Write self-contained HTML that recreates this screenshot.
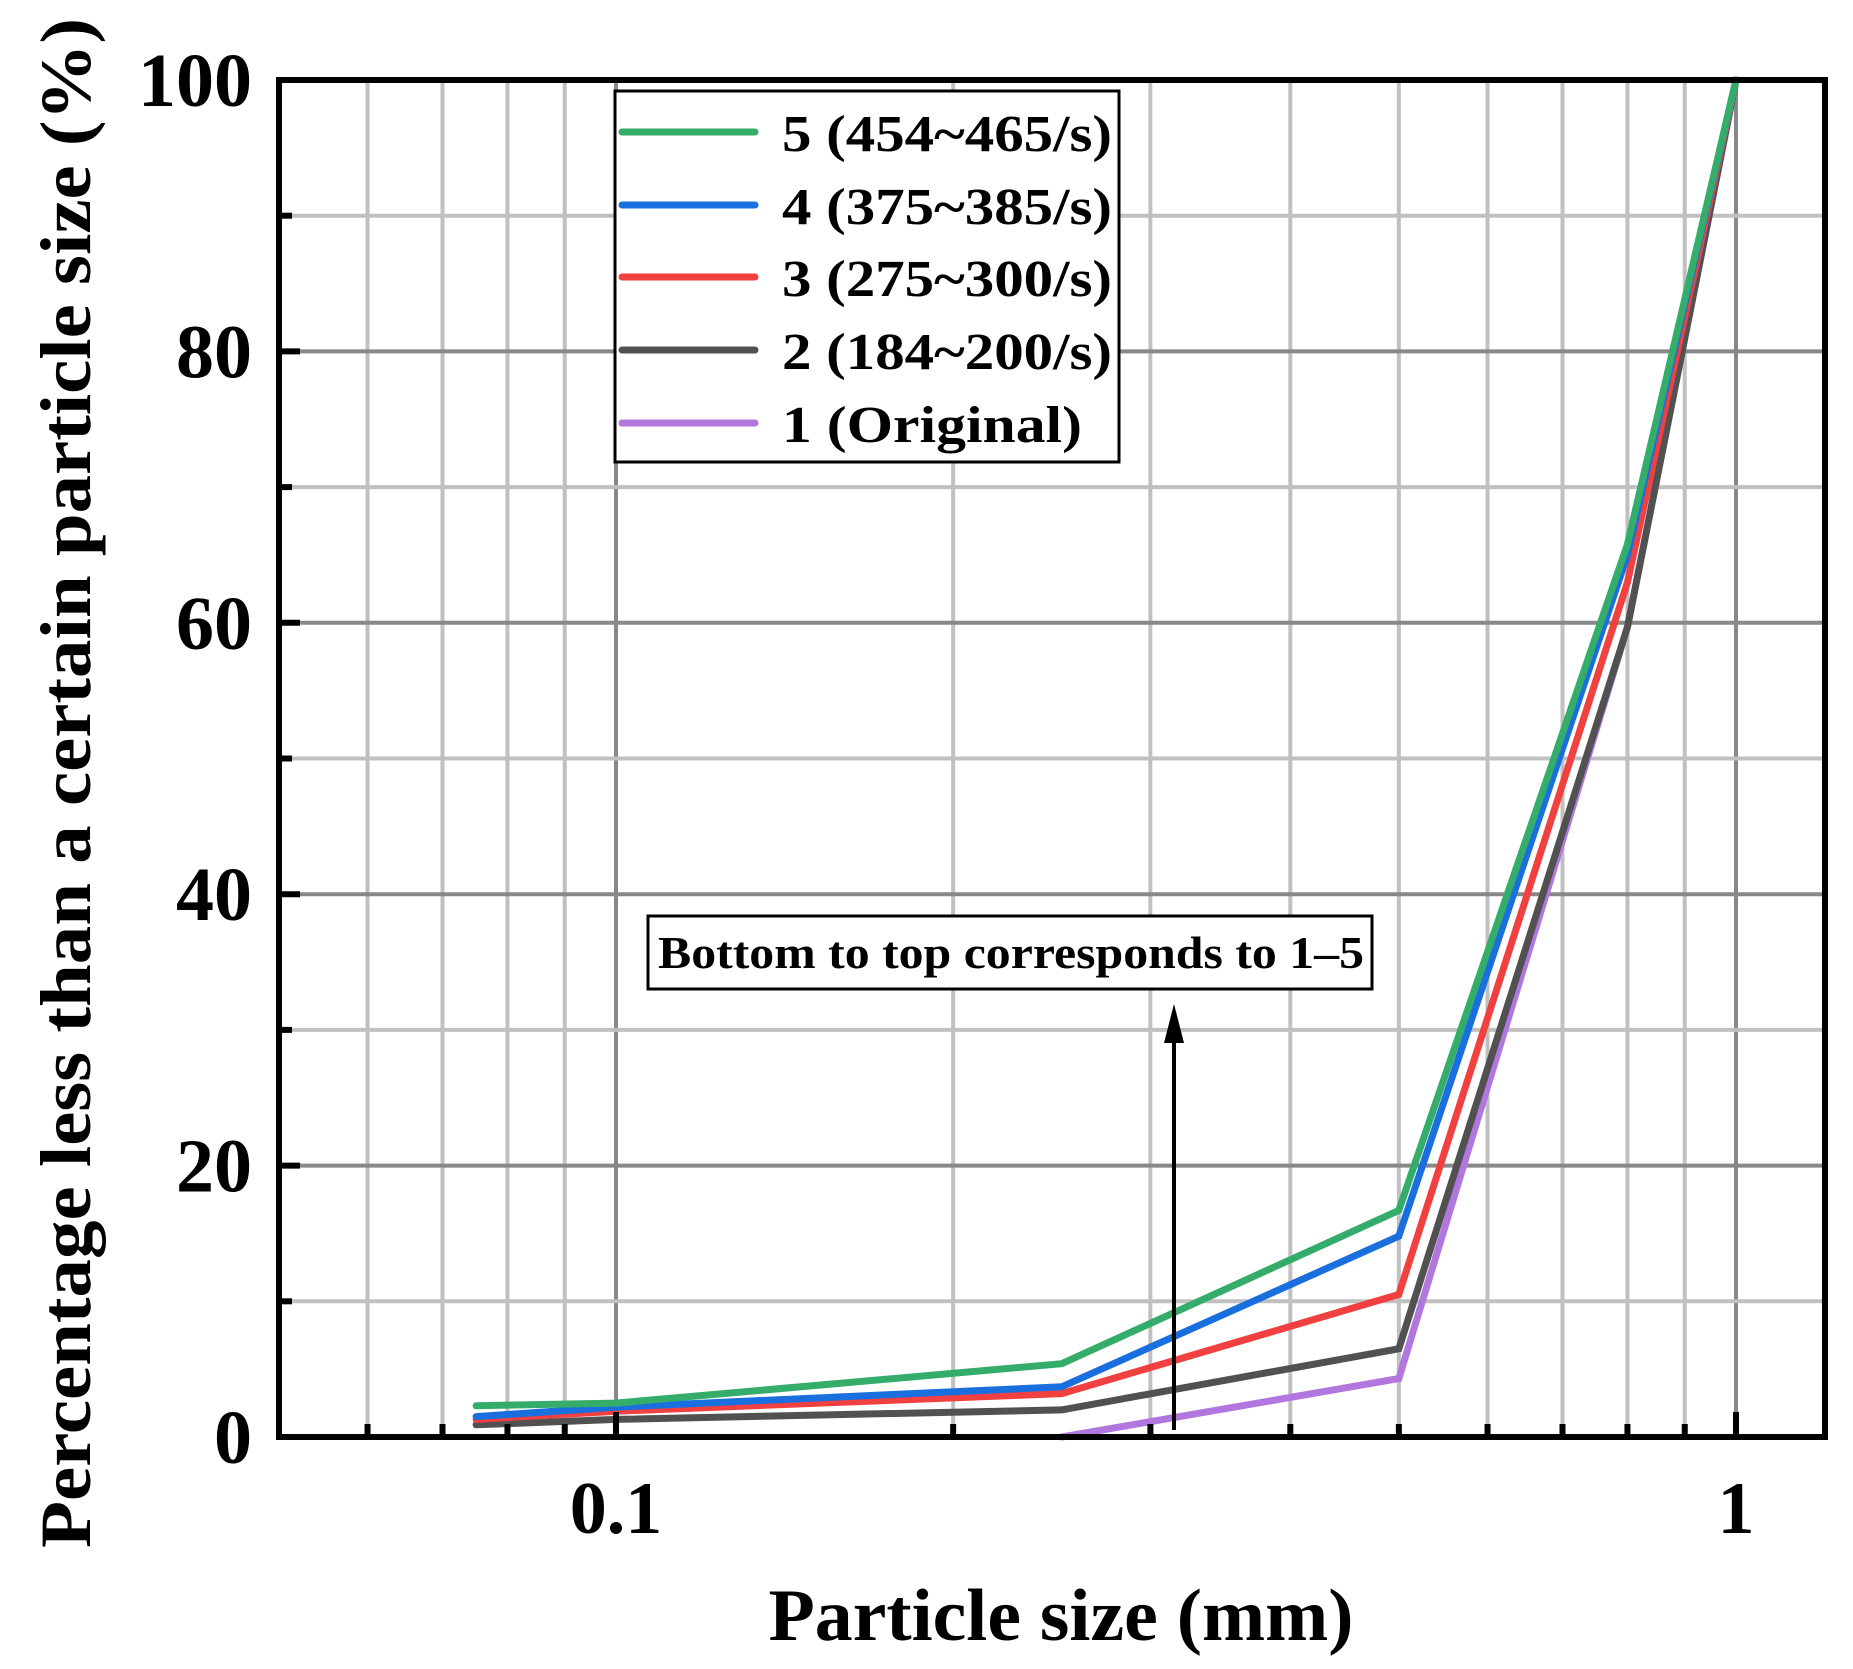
<!DOCTYPE html>
<html><head><meta charset="utf-8"><style>html,body{margin:0;padding:0;background:#fff}svg{display:block}</style></head>
<body>
<svg width="1853" height="1669" viewBox="0 0 1853 1669" xmlns="http://www.w3.org/2000/svg" font-family="Liberation Serif, serif" font-weight="bold">
<rect width="1853" height="1669" fill="#fff"/>
<g id="grid"></g>
<g id="series" fill="none" stroke-width="7" stroke-linejoin="miter"></g>
<!-- legend -->
<rect x="615" y="91" width="504" height="371" fill="#fff" stroke="#000" stroke-width="3"/>
<g stroke-width="7" stroke-linecap="round">
<line x1="622" y1="132" x2="755" y2="132" stroke="#34ad6a"/>
<line x1="622" y1="205" x2="755" y2="205" stroke="#1a6fdf"/>
<line x1="622" y1="277" x2="755" y2="277" stroke="#f14040"/>
<line x1="622" y1="350" x2="755" y2="350" stroke="#515151"/>
<line x1="622" y1="423" x2="755" y2="423" stroke="#b177de"/>
</g>
<g font-size="52" fill="#000">
<text x="782" y="151" textLength="330" lengthAdjust="spacingAndGlyphs">5  (454~465/s)</text>
<text x="782" y="224" textLength="330" lengthAdjust="spacingAndGlyphs">4  (375~385/s)</text>
<text x="782" y="296" textLength="330" lengthAdjust="spacingAndGlyphs">3  (275~300/s)</text>
<text x="782" y="369" textLength="330" lengthAdjust="spacingAndGlyphs">2  (184~200/s)</text>
<text x="782" y="442" textLength="300" lengthAdjust="spacingAndGlyphs">1  (Original)</text>
</g>
<!-- annotation -->
<rect x="648" y="916" width="724" height="73" fill="#fff" stroke="#000" stroke-width="3"/>
<text x="658" y="968" font-size="46" textLength="706" lengthAdjust="spacingAndGlyphs">Bottom to top corresponds to 1–5</text>
<line x1="1174" y1="1430" x2="1174" y2="1030" stroke="#000" stroke-width="4"/>
<polygon points="1174,1004 1164,1043 1184,1043" fill="#000"/>
<!-- axes frame -->
<rect x="279" y="80" width="1546" height="1357" fill="none" stroke="#000" stroke-width="6"/>
<g id="ticks" stroke="#000"></g>
<g font-size="76" text-anchor="end" id="ylab"></g>
<g font-size="74" text-anchor="middle">
<text x="616" y="1533">0.1</text>
<text x="1736" y="1533">1</text>
</g>
<text x="1061" y="1640" font-size="74" text-anchor="middle" textLength="585" lengthAdjust="spacingAndGlyphs">Particle size (mm)</text>
<text transform="translate(90,783) rotate(-90)" font-size="72" text-anchor="middle" textLength="1530" lengthAdjust="spacingAndGlyphs">Percentage less than a certain particle size (%)</text>
<script>
(function(){
var NS="http://www.w3.org/2000/svg";
function X(v){return 616+1120*(Math.log10(v)+1);}
function Y(p){return 1437-13.57*p;}
function el(t,a,p){var e=document.createElementNS(NS,t);for(var k in a)e.setAttribute(k,a[k]);p.appendChild(e);return e;}
var g=document.getElementById('grid'),tk=document.getElementById('ticks'),yl=document.getElementById('ylab');
var xs=[0.06,0.07,0.08,0.09,0.1,0.2,0.3,0.4,0.5,0.6,0.7,0.8,0.9,1];
xs.forEach(function(v){var x=X(v),maj=(v==0.1||v==1);
el('line',{x1:x,y1:83,x2:x,y2:1434,stroke:maj?'#888':'#c0c0c0','stroke-width':4},g);
el('line',{x1:x,y1:1434,x2:x,y2:maj?1412:1424,'stroke-width':6},tk);});
for(var p=10;p<100;p+=10){var y=Y(p),maj=(p%20==0);
el('line',{x1:282,y1:y,x2:1822,y2:y,stroke:maj?'#888':'#c0c0c0','stroke-width':4},g);
el('line',{x1:282,y1:y,x2:maj?300:292,y2:y,'stroke-width':6},tk);}
for(var p=0;p<=100;p+=20){var t=el('text',{x:252,y:Y(p)+26},yl);t.textContent=p;}
var s=document.getElementById('series');
var data=[
['#b177de',[[0.25,0],[0.5,4.3],[0.8,59.7],[1,100]]],
['#515151',[[0.075,0.9],[0.1,1.3],[0.25,2.0],[0.5,6.5],[0.8,59.7],[1,100]]],
['#f14040',[[0.075,1.3],[0.1,1.9],[0.25,3.2],[0.5,10.5],[0.8,63],[1,100]]],
['#1a6fdf',[[0.075,1.5],[0.1,2.2],[0.25,3.7],[0.5,14.8],[0.8,65],[1,100]]],
['#34ad6a',[[0.075,2.3],[0.1,2.5],[0.25,5.4],[0.5,16.7],[0.8,65.8],[1,100]]]];
data.forEach(function(d){el('polyline',{points:d[1].map(function(q){return X(q[0]).toFixed(1)+','+Y(q[1]).toFixed(1);}).join(' '),stroke:d[0],'stroke-linecap':'round'},s);});
})();
</script>
</svg>
</body></html>
